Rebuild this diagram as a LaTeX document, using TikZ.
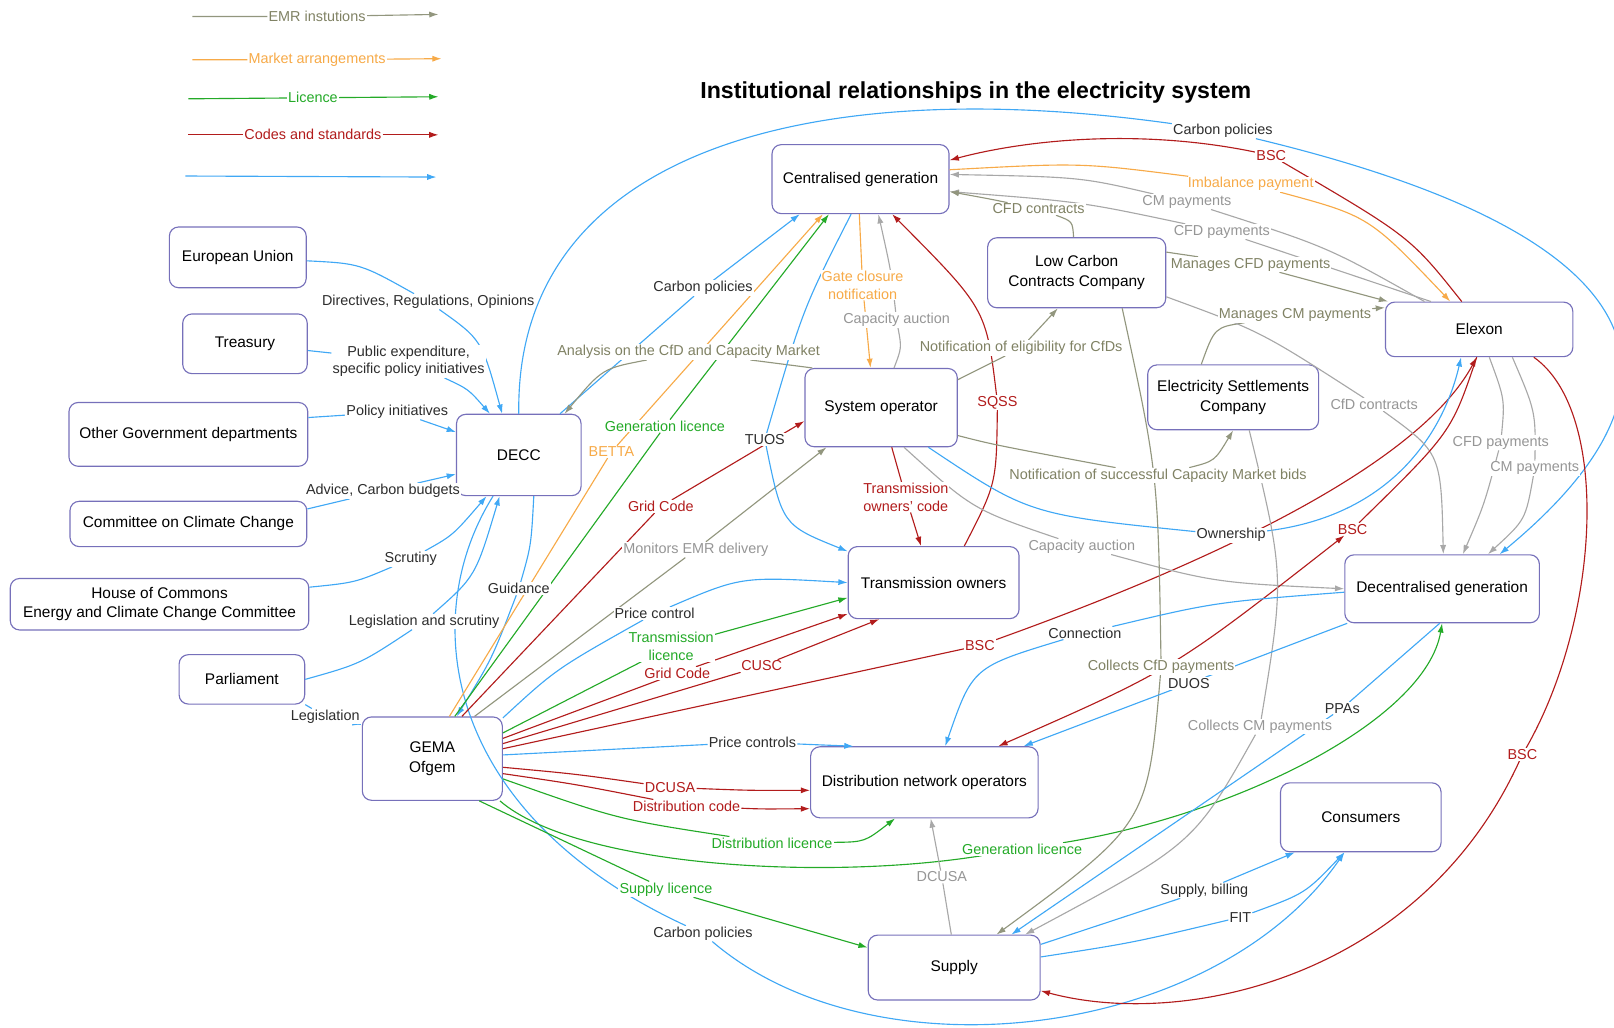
\documentclass[tikz,border=0pt]{standalone}
\usepackage{fontspec}
\setmainfont{Liberation Sans}
\usetikzlibrary{arrows.meta}
\pgfdeclarelayer{fg}
\pgfsetlayers{main,fg}
\definecolor{boxc}{RGB}{118,112,186}
\definecolor{bluec}{RGB}{64,168,245}
\definecolor{redc}{RGB}{178,28,28}
\definecolor{greenc}{RGB}{36,170,40}
\definecolor{orangec}{RGB}{247,170,72}
\definecolor{emrc}{RGB}{146,150,126}
\definecolor{greyc}{RGB}{168,168,168}
\definecolor{emrtxt}{RGB}{128,130,100}
\definecolor{greytxt}{RGB}{150,150,150}
\definecolor{labtxt}{RGB}{45,45,45}

\begin{document}
\begin{tikzpicture}[x=1pt, y=1pt,
    >={Latex[length=9pt,width=6pt]},
    org/.style={draw=boxc, line width=1.1pt, rounded corners=9pt, align=center, inner sep=2pt, font=\fontsize{15}{19}\selectfont},
    lab/.style={fill=white, inner sep=1pt, align=center, text=labtxt, font=\fontsize{14}{17}\selectfont},
    labemr/.style={lab, text=emrtxt},
    labgrey/.style={lab, text=greytxt},
    labred/.style={lab, text=redc},
    labgreen/.style={lab, text=greenc},
    laborange/.style={lab, text=orangec},
    bluline/.style={draw=bluec, line width=1.1pt, ->},
    redline/.style={draw=redc, line width=1.1pt, ->},
    grnline/.style={draw=greenc, line width=1.1pt, ->},
    ornline/.style={draw=orangec, line width=1.1pt, ->},
    emrline/.style={draw=emrc, line width=1.1pt, ->},
    gryline/.style={draw=greyc, line width=1.1pt, ->}]
  \useasboundingbox (0,0) rectangle (1568,-998);

  \node[font=\fontsize{22.5}{26}\selectfont\bfseries] (title) at (948,-90) {Institutional relationships in the electricity system};

  % organisations
  \node[org, minimum width=133pt, minimum height=59pt] (eu) at (231,-250) {European Union};
  \node[org, minimum width=121pt, minimum height=58pt] (treasury) at (238,-334) {Treasury};
  \node[org, minimum width=232pt, minimum height=62pt] (ogd) at (183,-422) {Other Government departments};
  \node[org, minimum width=230pt, minimum height=44pt] (ccc) at (183,-509) {Committee on Climate Change};
  \node[org, minimum width=290pt, minimum height=50pt] (hoc) at (155,-587) {House of Commons\\Energy and Climate Change Committee};
  \node[org, minimum width=122pt, minimum height=48pt] (parl) at (235,-660) {Parliament};
  \node[org, minimum width=121pt, minimum height=79pt] (decc) at (504,-442) {DECC};
  \node[org, minimum width=136pt, minimum height=81pt] (gema) at (420,-737) {GEMA\\Ofgem};
  \node[org, minimum width=172pt, minimum height=67pt] (cgen) at (836,-174) {Centralised generation};
  \node[org, minimum width=173pt, minimum height=68pt] (lccc) at (1046,-265) {Low Carbon\\Contracts Company};
  \node[org, minimum width=148pt, minimum height=76pt] (so) at (856,-396) {System operator};
  \node[org, minimum width=166pt, minimum height=70pt] (towners) at (907,-566) {Transmission owners};
  \node[org, minimum width=182pt, minimum height=53pt] (elexon) at (1437,-320) {Elexon};
  \node[org, minimum width=166pt, minimum height=63pt] (esc) at (1198,-386) {Electricity Settlements\\Company};
  \node[org, minimum width=189pt, minimum height=66pt] (dgen) at (1401,-572) {Decentralised generation};
  \node[org, minimum width=221pt, minimum height=69pt] (dno) at (898,-760) {Distribution network operators};
  \node[org, minimum width=156pt, minimum height=67pt] (cons) at (1322,-794) {Consumers};
  \node[org, minimum width=167pt, minimum height=63pt] (supply) at (927,-940) {Supply};

  % key
  \coordinate (k1s) at (187,-16); \coordinate (k1e) at (426,-14);
  \coordinate (k2s) at (187,-58); \coordinate (k2e) at (429,-57);
  \coordinate (k3s) at (183,-96); \coordinate (k3e) at (426,-94);
  \coordinate (k4s) at (183,-131); \coordinate (k4e) at (426,-131);
  \coordinate (k5s) at (180,-171); \coordinate (k5e) at (424,-172);

  \begin{pgfonlayer}{fg}
    \node[labemr] (k1) at (308,-16) {EMR instutions};
    \node[laborange] (k2) at (308,-58) {Market arrangements};
    \node[labgreen] (k3) at (304,-95) {Licence};
    \node[labred] (k4) at (304,-131) {Codes and standards};

    \node[lab] (l-eu) at (416,-293) {Directives, Regulations, Opinions};
    \node[lab] (l-tr) at (397,-351) {Public expenditure,\\specific policy initiatives};
    \node[lab] (l-ogd) at (386,-400) {Policy initiatives};
    \node[lab] (l-ccc) at (372,-477) {Advice, Carbon budgets};
    \node[lab] (l-hoc) at (399,-543) {Scrutiny};
    \node[lab] (l-parl) at (412,-604) {Legislation and scrutiny};
    \node[lab] (l-leg) at (316,-696) {Legislation};
    \node[lab] (l-guid) at (504,-572) {Guidance};
    \node[lab] (l-cp1) at (683,-280) {Carbon policies};
    \node[lab] (l-cp2) at (1188,-127) {Carbon policies};
    \node[lab] (l-cp3) at (683,-907) {Carbon policies};
    \node[lab] (l-tuos) at (743,-427) {TUOS};
    \node[labemr] (l-anal) at (669,-342) {Analysis on the CfD and Capacity Market};
    \node[laborange] (l-betta) at (594,-439) {BETTA};
    \node[labgreen] (l-genl1) at (646,-414) {Generation licence};
    \node[labred] (l-grid1) at (642,-492) {Grid Code};
    \node[labgrey] (l-mon) at (676,-534) {Monitors EMR delivery};
    \node[lab] (l-pc1) at (636,-596) {Price control};
    \node[labgreen] (l-tl) at (652,-628) {Transmission\\licence};
    \node[labred] (l-grid2) at (658,-654) {Grid Code};
    \node[labred] (l-cusc) at (740,-647) {CUSC};
    \node[labred] (l-bsc1) at (952,-627) {BSC};
    \node[lab] (l-pc2) at (731,-721) {Price controls};
    \node[labred] (l-dcusa1) at (651,-765) {DCUSA};
    \node[labred] (l-dcode) at (667,-783) {Distribution code};
    \node[labgreen] (l-distl) at (750,-819) {Distribution licence};
    \node[labgreen] (l-genl2) at (993,-825) {Generation licence};
    \node[labgreen] (l-supl) at (647,-864) {Supply licence};
    \node[laborange] (l-gate) at (838,-277) {Gate closure\\notification};
    \node[labgrey] (l-ca1) at (871,-311) {Capacity auction};
    \node[labred] (l-sqss) at (969,-391) {SQSS};
    \node[labred] (l-toc) at (880,-483) {Transmission\\owners' code};
    \node[labemr] (l-elig) at (992,-338) {Notification of eligibility for CfDs};
    \node[labemr] (l-bids) at (1125,-462) {Notification of successful Capacity Market bids};
    \node[lab] (l-own) at (1196,-520) {Ownership};
    \node[labgrey] (l-ca2) at (1051,-531) {Capacity auction};
    \node[labred] (l-bsc2) at (1235,-151) {BSC};
    \node[laborange] (l-imb) at (1215,-179) {Imbalance payment};
    \node[labgrey] (l-cmp1) at (1153,-196) {CM payments};
    \node[labgrey] (l-cfdp1) at (1187,-225) {CFD payments};
    \node[labemr] (l-cfdc1) at (1009,-203) {CFD contracts};
    \node[labemr] (l-mcfd) at (1215,-257) {Manages CFD payments};
    \node[labemr] (l-mcm) at (1258,-306) {Manages CM payments};
    \node[labgrey] (l-cfdc2) at (1335,-393) {CfD contracts};
    \node[labgrey] (l-cfdp2) at (1458,-430) {CFD payments};
    \node[labgrey] (l-cmp2) at (1491,-455) {CM payments};
    \node[labred] (l-bsc3) at (1314,-514) {BSC};
    \node[labred] (l-bsc4) at (1479,-733) {BSC};
    \node[lab] (l-conn) at (1054,-615) {Connection};
    \node[labemr] (l-ccfd) at (1128,-648) {Collects CfD payments};
    \node[lab] (l-duos) at (1155,-664) {DUOS};
    \node[lab] (l-ppa) at (1304,-688) {PPAs};
    \node[labgrey] (l-ccm) at (1224,-706) {Collects CM payments};
    \node[labgrey] (l-dcusa2) at (915,-852) {DCUSA};
    \node[lab] (l-sb) at (1170,-865) {Supply, billing};
    \node[lab] (l-fit) at (1205,-891) {FIT};
  \end{pgfonlayer}

  \draw[emrline] (k1s) -- (k1) -- (k1e);
  \draw[ornline] (k2s) -- (k2) -- (k2e);
  \draw[grnline] (k3s) -- (k3) -- (k3e);
  \draw[redline] (k4s) -- (k4) -- (k4e);
  \draw[bluline] (k5s) -- (k5e);

  % government side
  \draw[bluline] (eu) .. controls (350,-256) .. (l-eu) .. controls (468,-330) .. (decc.112);
  \draw[bluline] (treasury) -- (l-tr) .. controls (455,-378) .. (decc.125);
  \draw[bluline] (ogd.8) -- (l-ogd) -- (decc.160);
  \draw[bluline] ([yshift=-8pt]ccc.north east) -- (l-ccc) -- (decc.197);
  \draw[bluline] ([yshift=-9pt]hoc.north east) .. controls (345,-566) .. (l-hoc) .. controls (440,-520) .. (decc.232);
  \draw[bluline] (parl.east) .. controls (350,-645) .. (l-parl) .. controls (462,-560) .. (decc.245);
  \draw[bluline] (parl.south east) -- (l-leg) -- ([yshift=-8pt]gema.north west);
  \draw[bluline] (decc.290) .. controls (516,-530) .. (l-guid) .. controls (478,-640) .. (gema.60);
  \draw[bluline] (decc.238) .. controls (405,-600) and (430,-790) .. (l-cp3) .. controls (850,-1050) and (1180,-1010) .. (cons.245);
  \draw[bluline] (decc.45) -- (l-cp1) -- (cgen.210);
  \draw[bluline] (decc.north) .. controls (500,-150) and (780,-70) .. (l-cp2) .. controls (1700,-250) and (1600,-420) .. (dgen.31);
  \draw[emrline] (so.150) -- (l-anal) .. controls (585,-358) .. (decc.42);

  % GEMA
  \draw[ornline] (gema.68) -- (l-betta) -- (cgen.223);
  \draw[grnline] (gema.62) -- (l-genl1) -- (cgen.228);
  \draw[redline] (gema.55) -- (l-grid1) -- (so.190);
  \draw[emrline] (gema.45) -- (l-mon) -- (so.216);
  \draw[bluline] (gema.30) .. controls (540,-650) .. (l-pc1) .. controls (720,-560) .. (towners.west);
  \draw[grnline] (gema.20) -- (l-tl) -- (towners.190);
  \draw[redline] (gema.16) -- (l-grid2) -- (towners.200);
  \draw[redline] (gema.12) -- (l-cusc) -- (towners.214);
  \draw[redline] (gema.8) -- (l-bsc1) .. controls (1250,-520) and (1390,-430) .. (elexon.265);
  \draw[bluline] (gema.3) -- (l-pc2) -- (dno.153);
  \draw[redline] (gema.353) .. controls (560,-752) .. (l-dcusa1) .. controls (730,-768) .. (dno.184);
  \draw[redline] (gema.348) .. controls (560,-762) .. (l-dcode) .. controls (740,-786) .. (dno.193);
  \draw[grnline] (gema.344) .. controls (600,-796) .. (l-distl) .. controls (840,-818) .. (dno.231);
  \draw[grnline] (gema.328) .. controls (560,-842) and (800,-856) .. (l-genl2) .. controls (1200,-792) and (1385,-700) .. (dgen.270);
  \draw[grnline] (gema.318) -- (l-supl) -- (supply.167);

  % generation and system operator
  \draw[bluline] (cgen.255) .. controls (780,-300) .. (l-tuos) .. controls (760,-510) .. (towners.160);
  \draw[ornline] (cgen.268) -- (l-gate) -- (so.105);
  \draw[gryline] (so.72) .. controls (876,-338) .. (l-ca1) .. controls (866,-265) .. (cgen.297);
  \draw[redline] (towners.50) .. controls (968,-470) .. (l-sqss) .. controls (958,-300) .. (cgen.312);
  \draw[redline] (so.285) -- (l-toc) -- (towners.109);
  \draw[emrline] (so.20) -- (l-elig) -- (lccc.242);
  \draw[emrline] (so.340) .. controls (965,-432) .. (l-bids) .. controls (1180,-448) .. (esc.south);
  \draw[bluline] (so.320) .. controls (1000,-500) .. (l-own) .. controls (1360,-500) and (1405,-410) .. (elexon.237);
  \draw[gryline] (so.300) .. controls (945,-495) .. (l-ca2) .. controls (1180,-566) .. (dgen.west);

  % Elexon and the EMR bodies
  \draw[redline] (elexon.122) .. controls (1370,-230) .. (l-bsc2) .. controls (1110,-125) and (1000,-135) .. (cgen.12);
  \draw[ornline] (cgen.6) .. controls (1050,-158) .. (l-imb) .. controls (1330,-210) .. (elexon.136);
  \draw[gryline] (elexon.153) .. controls (1290,-240) .. (l-cmp1) .. controls (1050,-172) .. (cgen.3);
  \draw[gryline] (elexon.150) .. controls (1300,-262) .. (l-cfdp1) .. controls (1050,-196) .. (cgen.352);
  \draw[emrline] (lccc.95) .. controls (1042,-215) .. (l-cfdc1) .. controls (960,-193) .. (cgen.352);
  \draw[emrline] (lccc.13) -- (l-mcfd) -- (elexon.163);
  \draw[emrline] (esc.134) .. controls (1180,-318) .. (l-mcm) -- (elexon.167);
  \draw[gryline] (lccc.345) .. controls (1225,-322) .. (l-cfdc2) .. controls (1400,-440) .. (dgen.88);
  \draw[gryline] (elexon.290) .. controls (1462,-388) .. (l-cfdp2) .. controls (1442,-490) .. (dgen.59);
  \draw[gryline] (elexon.320) .. controls (1492,-400) .. (l-cmp2) .. controls (1482,-505) .. (dgen.37);
  \draw[redline, <->] (elexon.265) .. controls (1410,-420) .. (l-bsc3) .. controls (1140,-650) .. (dno.26);
  \draw[redline] (elexon.333) .. controls (1565,-400) and (1555,-600) .. (l-bsc4) .. controls (1380,-950) and (1150,-1000) .. (supply.345);
  \draw[emrline] (lccc.322) .. controls (1125,-460) .. (l-ccfd) .. controls (1115,-800) .. (supply.38);
  \draw[gryline] (esc.296) .. controls (1248,-560) .. (l-ccm) .. controls (1160,-820) .. (supply.25);

  % distribution and supply
  \draw[bluline] (dgen.182) .. controls (1180,-585) .. (l-conn) .. controls (945,-648) .. (dno.60);
  \draw[bluline] (dgen.200) -- (l-duos) -- (dno.20);
  \draw[bluline] (dgen.266) -- (l-ppa) -- (supply.30);
  \draw[gryline] (supply.95) -- (l-dcusa2) -- (dno.280);
  \draw[bluline] (supply.15) -- (l-sb) -- (cons.208);
  \draw[bluline] (supply.7) .. controls (1100,-916) .. (l-fit) .. controls (1268,-868) .. (cons.245);
\end{tikzpicture}
\end{document}
